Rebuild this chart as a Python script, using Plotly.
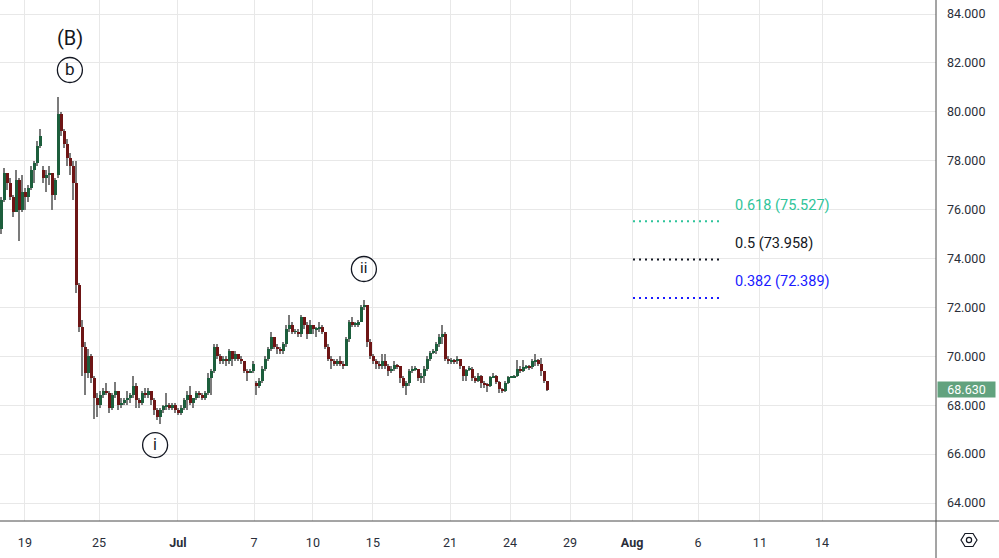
import plotly.graph_objects as go

# ---------------- data ----------------
opens = [75.2, 76.4, 77.5, 77.1, 76.5, 75.9, 77.2, 76.0, 76.7, 76.5,
         76.9, 77.6, 77.9, 78.6, 77.6, 77.3, 77.4, 77.5, 76.6, 77.4,
         79.9, 79.2, 78.7, 78.1, 77.8, 77.1, 72.9, 71.2, 70.4, 69.3,
         70.0, 69.1, 68.3, 68.0, 68.4, 68.6, 68.5, 67.9, 68.4, 68.6,
         68.0, 68.1, 68.2, 68.3, 68.4, 68.8, 68.2, 68.1, 68.5, 68.4,
         68.6, 68.2, 67.8, 67.5, 67.8, 67.95, 68.0, 67.9, 68.0, 67.8,
         67.7, 67.9, 68.2, 68.4, 68.1, 68.3, 68.5, 68.4, 68.3, 68.5,
         69.1, 69.4, 70.4, 70.0, 69.8, 69.9, 69.8, 70.2, 69.9, 70.1,
         69.9, 69.8, 69.4, 69.3, 69.4, 68.9, 68.8, 69.0, 69.5, 69.9,
         70.3, 70.8, 70.4, 70.3, 70.2, 70.5, 71.1, 71.3, 71.0, 71.0,
         70.9, 71.6, 71.3, 70.9, 71.3, 71.1, 71.1, 71.2, 71.0, 70.4,
         69.9, 69.8, 69.7, 69.8, 69.7, 69.6, 70.7, 71.4, 71.3, 71.3,
         71.4, 72.0, 72.1, 70.6, 70.0, 69.8, 69.7, 69.6, 69.8, 69.6,
         69.4, 69.5, 69.65, 69.6, 69.1, 68.8, 68.9, 69.4, 69.45, 69.5,
         69.1, 69.2, 69.5, 69.9, 70.15, 70.2, 70.5, 70.8, 70.9, 69.9,
         69.8, 69.85, 69.8, 69.9, 69.6, 69.2, 69.45, 69.5, 69.1, 69.0,
         69.2, 68.9, 68.85, 68.8, 69.15, 69.2, 68.95, 68.65, 68.6, 68.9,
         69.15, 69.15, 69.2, 69.5, 69.4, 69.55, 69.6, 69.55, 69.8, 69.85,
         69.7, 69.4, 69.0]
highs = [76.5, 77.7, 77.5, 77.3, 76.6, 77.6, 77.3, 77.4, 76.9, 77.0,
         77.8, 78.0, 78.8, 79.3, 77.8, 77.6, 77.8, 77.5, 77.3, 80.6,
         80.0, 79.3, 78.9, 78.3, 78.0, 78.0, 73.0, 71.5, 70.6, 70.3,
         70.1, 69.2, 68.5, 68.6, 68.7, 68.9, 68.6, 68.5, 68.95, 68.6,
         68.3, 68.3, 68.6, 68.5, 69.2, 68.9, 68.3, 68.6, 68.7, 68.7,
         68.6, 68.3, 67.9, 67.9, 68.0, 68.5, 68.1, 68.1, 68.1, 67.9,
         68.0, 68.3, 68.6, 68.8, 68.3, 68.6, 68.6, 68.5, 68.6, 69.3,
         69.5, 70.5, 70.5, 70.1, 70.0, 70.0, 70.3, 70.2, 70.2, 70.1,
         70.0, 69.8, 69.5, 69.5, 69.8, 69.0, 69.1, 69.6, 70.0, 70.4,
         71.0, 70.8, 70.5, 70.4, 70.6, 71.3, 71.7, 71.4, 71.1, 71.1,
         71.7, 71.6, 71.4, 71.5, 71.3, 71.2, 71.4, 71.3, 71.0, 70.5,
         70.0, 69.9, 69.9, 70.0, 69.8, 70.8, 71.5, 71.6, 71.4, 71.5,
         72.1, 72.3, 72.1, 70.7, 70.1, 69.9, 69.8, 70.1, 70.1, 69.7,
         69.6, 69.8, 69.7, 69.6, 69.2, 69.0, 69.5, 69.6, 69.6, 69.5,
         69.3, 69.6, 70.0, 70.2, 70.3, 70.6, 70.9, 71.3, 71.0, 70.0,
         69.95, 69.9, 70.0, 69.9, 69.6, 69.5, 69.6, 69.55, 69.2, 69.3,
         69.25, 69.0, 68.9, 69.2, 69.3, 69.25, 69.0, 68.7, 69.0, 69.2,
         69.2, 69.25, 69.85, 69.6, 69.85, 69.65, 69.65, 69.9, 70.1, 69.9,
         69.95, 69.4, 69.0]
lows = [75.0, 76.3, 76.8, 76.4, 75.7, 75.9, 74.7, 75.9, 76.0, 76.3,
        76.8, 77.1, 77.8, 78.5, 77.1, 76.7, 77.0, 76.0, 76.4, 77.3,
        79.0, 78.5, 77.8, 77.4, 76.4, 72.6, 71.0, 69.2, 68.4, 69.1,
        68.9, 67.45, 67.5, 67.9, 68.3, 68.4, 67.7, 67.8, 68.3, 67.8,
        67.9, 68.0, 68.0, 68.1, 68.3, 67.9, 67.9, 68.0, 68.3, 68.3,
        68.0, 67.6, 67.4, 67.25, 67.7, 67.8, 67.8, 67.8, 67.7, 67.6,
        67.6, 67.8, 67.8, 68.0, 67.9, 68.2, 68.3, 68.2, 68.2, 68.4,
        68.4, 69.3, 69.9, 69.7, 69.7, 69.6, 69.7, 69.6, 69.8, 69.8,
        69.7, 69.3, 69.0, 69.3, 69.3, 68.4, 68.7, 68.9, 69.4, 69.8,
        70.2, 70.3, 70.1, 70.1, 70.1, 70.4, 71.0, 70.9, 70.9, 70.8,
        70.8, 71.1, 70.7, 70.9, 70.9, 70.8, 71.0, 70.9, 70.3, 69.8,
        69.5, 69.6, 69.6, 69.6, 69.5, 69.6, 70.6, 71.2, 71.2, 71.2,
        71.4, 71.9, 70.4, 69.9, 69.7, 69.5, 69.5, 69.5, 69.5, 69.2,
        69.3, 69.4, 69.5, 68.9, 68.7, 68.4, 68.8, 69.3, 69.4, 69.0,
        68.9, 68.9, 69.4, 69.8, 70.1, 70.1, 70.4, 70.5, 69.8, 69.7,
        69.7, 69.7, 69.7, 69.5, 69.0, 69.0, 69.4, 69.0, 68.9, 68.95,
        68.7, 68.7, 68.55, 68.75, 69.1, 68.85, 68.5, 68.5, 68.55, 68.85,
        69.1, 69.1, 69.15, 69.3, 69.35, 69.5, 69.45, 69.5, 69.6, 69.6,
        69.2, 68.9, 68.6]
closes = [76.4, 77.5, 77.1, 76.5, 75.9, 77.2, 76.0, 76.7, 76.5, 76.9,
          77.6, 77.9, 78.6, 79.0, 77.3, 77.4, 77.5, 76.6, 77.2, 79.9,
          79.2, 78.7, 78.1, 77.8, 77.1, 72.9, 71.2, 70.4, 69.3, 70.0,
          69.1, 68.3, 68.0, 68.4, 68.6, 68.5, 67.9, 68.4, 68.6, 68.0,
          68.1, 68.2, 68.3, 68.4, 68.8, 68.2, 68.1, 68.5, 68.4, 68.6,
          68.2, 67.8, 67.5, 67.8, 67.95, 68.0, 67.9, 68.0, 67.8, 67.7,
          67.9, 68.2, 68.4, 68.1, 68.3, 68.5, 68.4, 68.3, 68.5, 69.1,
          69.4, 70.4, 70.0, 69.8, 69.9, 69.8, 70.2, 69.9, 70.1, 69.9,
          69.8, 69.4, 69.3, 69.4, 69.7, 68.8, 69.0, 69.5, 69.9, 70.3,
          70.8, 70.4, 70.3, 70.2, 70.5, 71.1, 71.3, 71.0, 71.0, 70.9,
          71.6, 71.3, 70.9, 71.3, 71.1, 71.1, 71.2, 71.0, 70.4, 69.9,
          69.8, 69.7, 69.8, 69.7, 69.6, 70.7, 71.4, 71.3, 71.3, 71.4,
          72.0, 72.1, 70.6, 70.0, 69.8, 69.7, 69.6, 69.8, 69.6, 69.4,
          69.5, 69.65, 69.6, 69.1, 68.8, 68.9, 69.4, 69.45, 69.5, 69.1,
          69.2, 69.5, 69.9, 70.15, 70.2, 70.5, 70.8, 70.9, 69.9, 69.8,
          69.85, 69.8, 69.9, 69.6, 69.2, 69.45, 69.5, 69.1, 69.0, 69.2,
          68.9, 68.85, 68.8, 69.15, 69.2, 68.95, 68.65, 68.6, 68.9, 69.15,
          69.15, 69.2, 69.5, 69.4, 69.55, 69.6, 69.55, 69.8, 69.85, 69.7,
          69.4, 69.0, 68.63]

# time axis: bar index at which each labelled session begins
tick_bar_index = [7.8, 32.5, 58.8, 84.2, 103.8, 123.8, 149.5, 169.5,
                  189.5, 210.2, 232.2, 252.8, 273.5]
tick_labels = ["19", "25", "<b>Jul</b>", "7", "10", "15", "21", "24",
               "29", "<b>Aug</b>", "6", "11", "14"]

price_ticks = [64, 66, 68, 70, 72, 74, 76, 78, 80, 82, 84]

fib_ratios = [0.618, 0.5, 0.382]
fib_prices = [75.527, 73.958, 72.389]
last_price = 68.630

# ---------------- styling ----------------
GREEN = "#1c5e3c"
RED = "#6e1515"
WICK = "#7b7b7b"
GRID = "#e8e8e8"
AXIS = "#4a4a4a"
TXT = "#2a2e39"
FONT = "Roboto"
fib_colors = ["#2fc49a", "#131722", "#1a1aff"]

n = len(closes)
xs = list(range(n))
wick_h = [h - l for h, l in zip(highs, lows)]
body_base = [min(o, c) for o, c in zip(opens, closes)]
body_h = [max(abs(c - o), 0.035) for o, c in zip(opens, closes)]
body_col = [GREEN if c >= o else RED for o, c in zip(opens, closes)]

fig = go.Figure()
fig.add_trace(go.Bar(x=xs, y=wick_h, base=lows, width=0.4,
                     marker=dict(color=WICK, line=dict(width=0)),
                     hoverinfo="skip", showlegend=False))
fig.add_trace(go.Bar(x=xs, y=body_h, base=body_base, width=0.72,
                     marker=dict(color=body_col, line=dict(width=0)),
                     hoverinfo="skip", showlegend=False))

# Fibonacci retracement levels
FIB_X0, FIB_X1, FIB_LABEL_X = 210.5, 240.2, 243.8
for r, p, col in zip(fib_ratios, fib_prices, fib_colors):
    fig.add_trace(go.Scatter(x=[FIB_X0, FIB_X1], y=[p, p], mode="lines",
                             line=dict(color=col, width=2, dash="2px,4px"),
                             hoverinfo="skip", showlegend=False))
    fig.add_annotation(x=FIB_LABEL_X, y=p, xref="x", yref="y",
                       text=f"{r:g} ({p:.3f})", showarrow=False,
                       xanchor="left", yanchor="middle", yshift=16,
                       font=dict(family=FONT, size=14.5, color=col))

# Elliott wave labels
fig.add_annotation(x=22.8, y=83.02, text="(B)", showarrow=False,
                   font=dict(family=FONT, size=20, color="#131722"))
waves = [("b", 22.8, 81.71, 17), ("i", 51.2, 66.37, 16), ("ii", 120.8, 73.57, 15)]
shapes = []
for t, wx, wy, fs in waves:
    shapes.append(dict(type="circle", xref="x", yref="y",
                       xsizemode="pixel", ysizemode="pixel",
                       xanchor=wx, yanchor=wy, x0=-12.5, x1=12.5, y0=-12.5, y1=12.5,
                       line=dict(color="#131722", width=1.3)))
    fig.add_annotation(x=wx, y=wy, text=t, showarrow=False, yshift=1,
                       font=dict(family=FONT, size=fs, color="#131722"))

# axis frame lines (extend through the corner like TradingView)
shapes.append(dict(type="line", xref="paper", yref="paper", x0=1, x1=1,
                   y0=-37 / 521, y1=1, line=dict(color=AXIS, width=1)))
shapes.append(dict(type="line", xref="paper", yref="paper", x0=0, x1=999 / 936,
                   y0=0, y1=0, line=dict(color=AXIS, width=1)))
# settings (hexagon) icon in the corner
shapes.append(dict(type="path", xref="paper", yref="paper",
                   xsizemode="pixel", ysizemode="pixel",
                   xanchor=969 / 936, yanchor=-19 / 521,
                   path="M -8 0 L -4 6.5 L 4 6.5 L 8 0 L 4 -6.5 L -4 -6.5 Z",
                   line=dict(color="#131722", width=1.2)))
shapes.append(dict(type="circle", xref="paper", yref="paper",
                   xsizemode="pixel", ysizemode="pixel",
                   xanchor=969 / 936, yanchor=-19 / 521,
                   x0=-2.6, x1=2.6, y0=-2.6, y1=2.6,
                   line=dict(color="#131722", width=1.2)))

# last price tag
fig.add_annotation(x=1, xref="paper", y=last_price, yref="y",
                   text=f"{last_price:.3f}", showarrow=False,
                   xanchor="left", yanchor="middle", xshift=1,
                   width=57, height=15, borderpad=0,
                   bgcolor="#62a27e", font=dict(family=FONT, size=12.5, color="white"))

fig.update_layout(
    width=999, height=558,
    margin=dict(l=0, r=63, t=0, b=37),
    paper_bgcolor="white", plot_bgcolor="white",
    barmode="overlay", bargap=0,
    shapes=shapes,
    showlegend=False,
    font=dict(family=FONT, size=12, color=TXT),
    xaxis=dict(range=[-0.5, 311.5], tickmode="array",
               tickvals=tick_bar_index, ticktext=tick_labels,
               showgrid=True, gridcolor=GRID, gridwidth=1,
               zeroline=False, showline=False, ticks="",
               ticklabelstandoff=12, fixedrange=True,
               tickfont=dict(family=FONT, size=12.5, color=TXT)),
    yaxis=dict(range=[63.264, 84.573], side="right", tickmode="array",
               tickvals=price_ticks, tickformat=".3f",
               showgrid=True, gridcolor=GRID, gridwidth=1,
               zeroline=False, showline=False, ticks="",
               ticklabelstandoff=10, fixedrange=True,
               tickfont=dict(family=FONT, size=12.5, color=TXT)),
)

fig.write_html("out.html", config={"displayModeBar": False},
               post_script="document.body.style.margin='0';")
